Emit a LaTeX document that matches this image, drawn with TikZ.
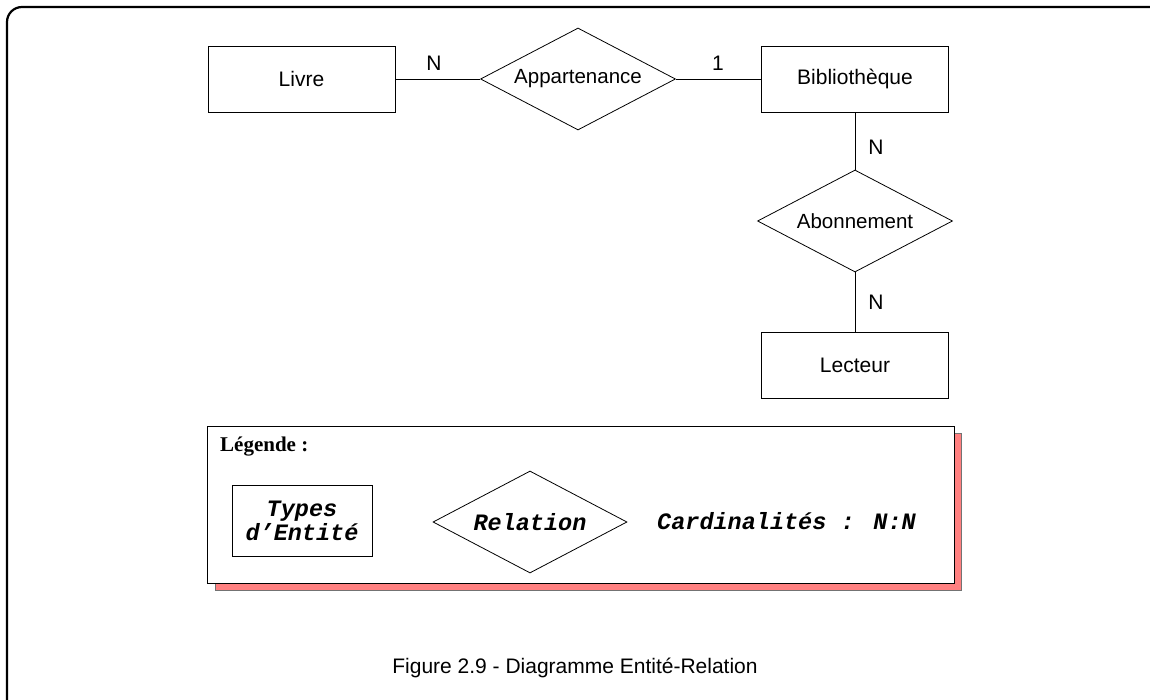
\documentclass[tikz,border=0pt]{standalone}
\usepackage{fontspec}
\setmainfont{Liberation Sans}
\newfontfamily\legserif{Liberation Serif}
\newfontfamily\legmono{Liberation Mono}
\usetikzlibrary{shapes.geometric}
\definecolor{shadowred}{HTML}{FF8080}
\tikzset{
  entity/.style={draw, line width=0.8pt, minimum width=187pt, minimum height=66pt, inner sep=0pt, font=\fontsize{21}{24}\selectfont},
  rel/.style={draw, diamond, aspect=1.9, line width=0.8pt, minimum width=195pt, minimum height=102pt, inner sep=0pt, font=\fontsize{20.5}{24}\selectfont},
  card/.style={font=\fontsize{21}{24}\selectfont, inner sep=0pt},
  conn/.style={line width=0.8pt},
  legtxt/.style={font=\legmono\bfseries\itshape\fontsize{23.5}{26}\selectfont, inner sep=0pt, align=center},
}
\begin{document}
\begin{tikzpicture}[x=1pt,y=-1pt]
\useasboundingbox (0,0) rectangle (1150,700);
% outer frame
\draw[line width=2.2pt, rounded corners=15pt] (7,700) -- (7,7) -- (1150,7);
% diagram
\node[entity] (livre) at (301.5,79) {Livre};
\node[rel] (app) at (578,79) {Appartenance};
\node[entity] (bib) at (855,79) {Bibliothèque};
\node[rel] (abo) at (855,221) {Abonnement};
\node[entity] (lect) at (855,365) {Lecteur};
\draw[conn] (livre.east) -- (app.west);
\draw[conn] (app.east) -- (bib.west);
\draw[conn] (bib.south) -- (abo.north);
\draw[conn] (abo.south) -- (lect.north);
\node[card] (c1) at (434,63) {N};
\node[card] (c2) at (718,63) {1};
\node[card] (c3) at (876,147) {N};
\node[card] (c4) at (876,302) {N};
% legend
\fill[shadowred, draw=black!55, line width=0.6pt] (215,433) rectangle (961,590);
\node[draw, fill=white, line width=0.8pt, minimum width=747pt, minimum height=157pt, inner sep=0pt] (leg) at (581,504.5) {};
\node[font=\legserif\bfseries\fontsize{21}{24}\selectfont, inner sep=0pt, anchor=west] (legtitle) at (220,447) {Légende :};
\node[draw, line width=0.8pt, minimum width=140pt, minimum height=71pt, inner sep=0pt, legtxt] (ltype) at (302,520.5) {Types\\[-2pt]d’Entité};
\node[draw, diamond, aspect=1.9, line width=0.8pt, minimum width=194pt, minimum height=102pt, inner sep=0pt, legtxt] (lrel) at (530,522) {Relation};
\node[legtxt, anchor=west] (lcard) at (657,521) {Cardinalités : N:N};
% caption
\node[font=\fontsize{21}{25}\selectfont, inner sep=0pt] (cap) at (575,668) {Figure 2.9 - Diagramme Entité-Relation};
\end{tikzpicture}
\end{document}
